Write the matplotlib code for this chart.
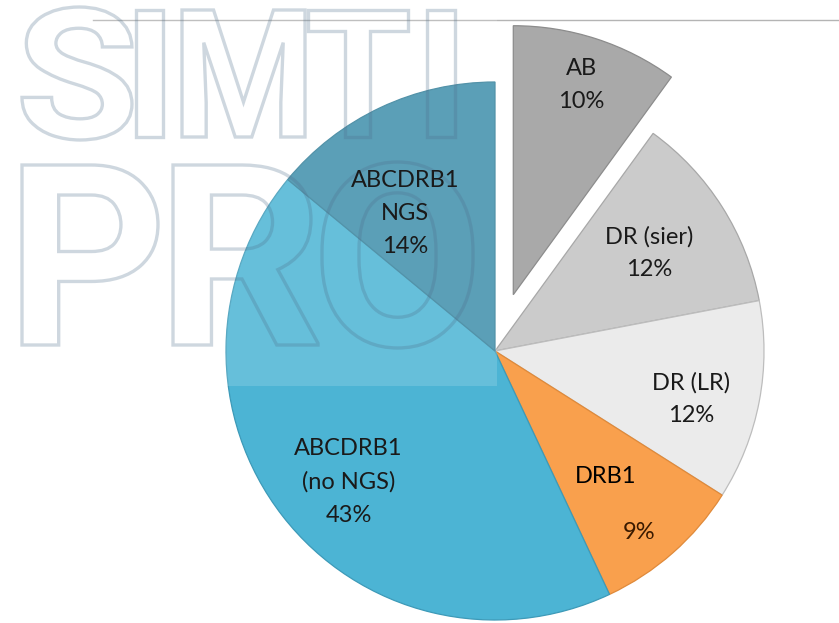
import numpy as np
import matplotlib
matplotlib.use('Agg')
import matplotlib.pyplot as plt
from matplotlib.patches import Rectangle, PathPatch
from matplotlib.textpath import TextPath
from matplotlib.font_manager import FontProperties
from matplotlib.transforms import Affine2D

plt.rcParams['font.family'] = ['Lato', 'DejaVu Sans']

# dati
categorie = ['AB', 'DR (sier)', 'DR (LR)', 'DRB1', 'ABCDRB1\n(no NGS)', 'ABCDRB1\nNGS']
percentuali = [10, 12, 12, 9, 43, 14]
colori = ['#a9a9a9', '#cbcbcb', '#ebebeb', '#f9a04d', '#4cb4d4', '#3f8fab']
esploso = [0.22, 0, 0, 0, 0, 0]

W, H = 839, 623
fig = plt.figure(figsize=(W / 100, H / 100), dpi=100)
ax = fig.add_axes([0, 0, 1, 1])

# linea orizzontale in alto
ax.plot([93, W], [H - 20, H - 20], color='#b4b4b4', lw=1, zorder=0)

cx, cy, r = 495, H - 351, 269
wedges, _ = ax.pie(percentuali, colors=colori, explode=[e * r for e in esploso],
                   startangle=90, counterclock=False, radius=r, center=(cx, cy),
                   frame=True, wedgeprops=dict(linewidth=0.9))
ax.set_xlim(0, W)
ax.set_ylim(0, H)
ax.set_aspect('equal')
ax.axis('off')
bordi = ['#8c8c8c', '#a8a8a8', '#bdbdbd', '#e08a3a', '#3d9ab8', '#35809a']
for w, b in zip(wedges, bordi):
    w.set_edgecolor(b)

# etichette
frazioni = [0.82, 0.68, 0.75, 0.62, 0.73, 0.61]
spost_ang = [0, 0, -3, 0, 4, 8]
fs = 17
for i, w in enumerate(wedges):
    ang = np.deg2rad((w.theta1 + w.theta2) / 2 + spost_ang[i])
    x0, y0 = w.center
    d = frazioni[i] * r
    tx, ty = x0 + d * np.cos(ang), y0 + d * np.sin(ang)
    if categorie[i] == 'DRB1':
        ax.text(tx, ty, categorie[i], ha='center', va='center', fontsize=fs, color='black', zorder=8)
        ang2 = np.deg2rad((w.theta1 + w.theta2) / 2 - 3)
        d2 = 0.86 * r
        ax.text(x0 + d2 * np.cos(ang2), y0 + d2 * np.sin(ang2), f'{percentuali[i]}%',
                ha='center', va='center', fontsize=fs, color='#3a1a00', zorder=8)
    else:
        ax.text(tx, ty, f'{categorie[i]}\n{percentuali[i]}%', ha='center', va='center',
                fontsize=fs, linespacing=1.7, color='#1a1a1a', zorder=8)

# filigrana
ax.add_patch(Rectangle((0, H - 386), 497, 386, facecolor='white', alpha=0.15,
                       edgecolor='none', zorder=6))
fp = FontProperties(family=['Roboto', 'DejaVu Sans'], weight='bold')

lettere = [('S', 22, 7, 132, 140), ('I', 136, 10, 163, 137), ('M', 182, 10, 305, 137),
           ('T', 308, 10, 408, 137), ('I', 427, 10, 455, 137),
           ('P', 22, 165, 158, 345), ('R', 173, 165, 318, 345), ('O', 322, 162, 473, 348)]


def lettera(c, x1, y1, x2, y2):
    tp = TextPath((0, 0), c, prop=fp, size=100)
    bb = tp.get_extents()
    sx = (x2 - x1) / bb.width
    sy = (y2 - y1) / bb.height
    tr = Affine2D().translate(-bb.x0, -bb.y0).scale(sx, sy).translate(x1, H - y2)
    p = tr.transform_path(tp)
    ax.add_patch(PathPatch(p, facecolor='none', edgecolor='#50708c', alpha=0.28,
                           lw=2.4, zorder=7))


for l in lettere:
    lettera(*l)

fig.savefig('out.png', dpi=100)
